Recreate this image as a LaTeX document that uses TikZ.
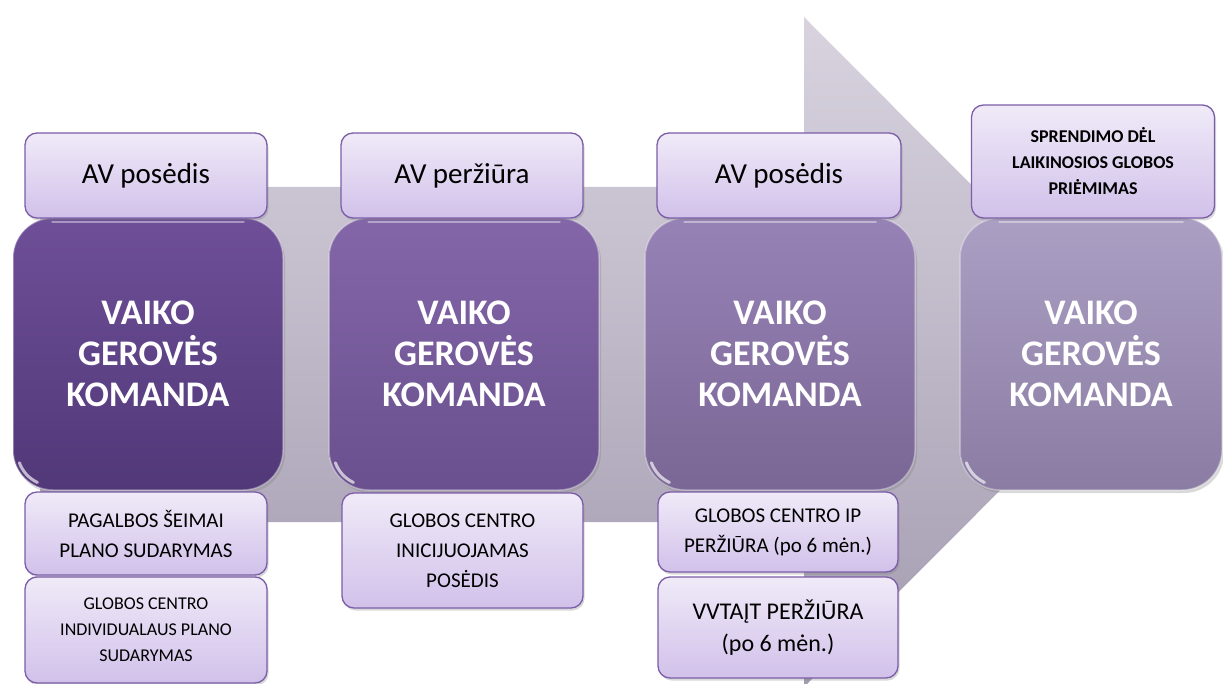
\documentclass[tikz,border=0pt]{standalone}
\usepackage{fontspec}
\setmainfont{Carlito}
\usetikzlibrary{shadows}
\definecolor{arrowtop}{HTML}{D8D3DF}
\definecolor{arrowbot}{HTML}{A39BAF}
\definecolor{lavtop}{HTML}{F0EAF8}
\definecolor{lavbot}{HTML}{D1C1EA}
\definecolor{lavline}{HTML}{7B5EA7}
\definecolor{teamAtop}{HTML}{6E4F98}
\definecolor{teamAbot}{HTML}{513878}
\definecolor{teamBtop}{HTML}{8366A8}
\definecolor{teamBbot}{HTML}{6A508F}
\definecolor{teamCtop}{HTML}{9782B6}
\definecolor{teamCbot}{HTML}{7A6795}
\definecolor{teamDtop}{HTML}{AC9FC4}
\definecolor{teamDbot}{HTML}{8A7CA2}
\begin{document}
\begin{tikzpicture}[x=1pt, y=-1pt,
    labelbox/.style={draw=lavline, line width=1.3pt, rounded corners=12pt,
        top color=lavtop, bottom color=lavbot, align=center, inner sep=0pt,
        drop shadow={shadow xshift=1.5pt, shadow yshift=-2.5pt, opacity=0.3}},
    teambox/.style 2 args={rounded corners=40pt, top color=#1, bottom color=#2,
        draw=white, draw opacity=0.35, line width=1.5pt, text=white,
        font=\bfseries\fontsize{36}{41}\selectfont, align=center, inner sep=0pt,
        minimum width=270pt, minimum height=272pt,
        drop shadow={shadow xshift=2pt, shadow yshift=-3pt, opacity=0.3}},
    gloss/.style={white, line cap=round, opacity=0.65}]
    \useasboundingbox (0,0) rectangle (1223,684);
    % big arrow in the background
    \shade[top color=arrowtop, bottom color=arrowbot]
        (40,187) -- (804,187) -- (804,17) -- (1138,352) -- (804,687) -- (804,522) -- (40,522) -- cycle;
    % team boxes
    \node[teambox={teamAtop}{teamAbot}] (team1) at (148,354) {VAIKO\\GEROVĖS\\KOMANDA};
    \node[teambox={teamBtop}{teamBbot}] (team2) at (464,354) {VAIKO\\GEROVĖS\\KOMANDA};
    \node[teambox={teamCtop}{teamCbot}] (team3) at (780,354) {VAIKO\\GEROVĖS\\KOMANDA};
    \node[teambox={teamDtop}{teamDbot}, minimum width=262pt] (team4) at (1091,354) {VAIKO\\GEROVĖS\\KOMANDA};
    % glossy highlights
    \foreach \t in {team1,team2,team3,team4} {
        \draw[gloss, line width=3pt] ([xshift=40pt,yshift=40pt]\t.south west) ++(200:35pt) arc[start angle=200, end angle=245, radius=35pt];
        \draw[gloss, line width=2pt, opacity=0.4] ([xshift=40pt,yshift=-5pt]\t.north west) -- ([xshift=-40pt,yshift=-5pt]\t.north east);
    }
    % labels above
    \node[labelbox, minimum width=242pt, minimum height=85pt, font=\fontsize{29}{34}\selectfont] (top1) at (146,175.5) {AV posėdis};
    \node[labelbox, minimum width=242pt, minimum height=85pt, font=\fontsize{29}{34}\selectfont] (top2) at (462,175.5) {AV peržiūra};
    \node[labelbox, minimum width=244pt, minimum height=85pt, font=\fontsize{29}{34}\selectfont] (top3) at (779,175.5) {AV posėdis};
    \node[labelbox, minimum width=243pt, minimum height=113pt, font=\bfseries\fontsize{18}{26}\selectfont] (top4) at (1093,161.5) {SPRENDIMO DĖL\\LAIKINOSIOS GLOBOS\\PRIĖMIMAS};
    % labels below
    \node[labelbox, minimum width=242pt, minimum height=83pt, font=\fontsize{21}{30}\selectfont] (low1a) at (146,533.5) {PAGALBOS ŠEIMAI\\PLANO SUDARYMAS};
    \node[labelbox, minimum width=242pt, minimum height=106pt, font=\fontsize{18}{26}\selectfont] (low1b) at (146,630) {GLOBOS CENTRO\\INDIVIDUALAUS PLANO\\SUDARYMAS};
    \node[labelbox, minimum width=241pt, minimum height=115pt, font=\fontsize{21}{30}\selectfont] (low2) at (462.5,550.5) {GLOBOS CENTRO\\INICIJUOJAMAS\\POSĖDIS};
    \node[labelbox, minimum width=240pt, minimum height=80pt, font=\fontsize{21}{30}\selectfont] (low3a) at (778,532) {GLOBOS CENTRO IP\\PERŽIŪRA (po 6 mėn.)};
    \node[labelbox, minimum width=240pt, minimum height=101pt, font=\fontsize{24}{32}\selectfont] (low3b) at (778,627.5) {VVTAĮT PERŽIŪRA\\(po 6 mėn.)};
\end{tikzpicture}
\end{document}
